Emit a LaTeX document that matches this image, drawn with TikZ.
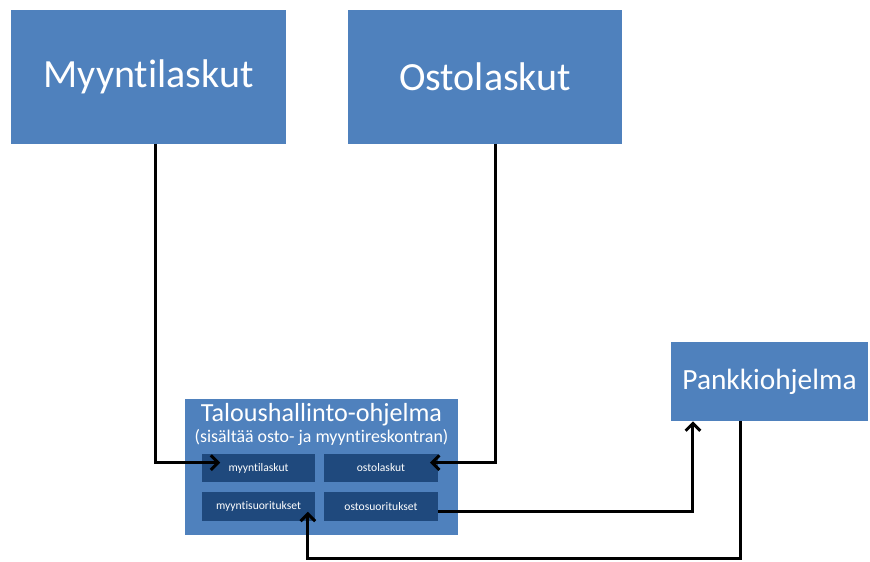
\documentclass[tikz,border=0pt]{standalone}
\usepackage{fontspec}
\setmainfont{Carlito}[Ligatures=NoCommon]
\usetikzlibrary{positioning}
\usetikzlibrary{arrows.meta}

\definecolor{boxblue}{HTML}{4F81BD}
\definecolor{innerblue}{HTML}{1F497D}

\tikzset{
  bigbox/.style={rectangle,fill=boxblue,draw=none,text=white,inner sep=0pt},
  smallbox/.style={rectangle,fill=innerblue,draw=none,text=white,inner sep=0pt,
    minimum width=85pt,minimum height=21.5pt,font=\fontsize{8.7}{10}\selectfont},
  conn/.style={line width=2.25pt,-{Straight Barb[length=5.5pt,width=11pt,line width=2.25pt]}},
}

\begin{document}
\begin{tikzpicture}[x=0.75pt,y=-0.75pt]
\useasboundingbox[fill=white] (0,0) rectangle (870,561);

\node[bigbox,minimum width=206.25pt,minimum height=100.5pt,font=\fontsize{30}{36}\selectfont] (my) at (148.5,76.5) {Myyntilaskut};
\node[bigbox,minimum width=205.5pt,minimum height=100.5pt,font=\fontsize{30}{36}\selectfont] (ost) at (485,76.5) {Ostolaskut};
\node[bigbox,minimum width=147.75pt,minimum height=59.25pt,font=\fontsize{22}{26}\selectfont] (pk) at (769.5,381.5) {Pankkiohjelma};

\node[bigbox,minimum width=204.75pt,minimum height=102pt] (th) at (321.5,467) {};
\node[text=white,align=center,inner sep=0pt,below=3pt of th.north] (thtext)
  {{\fontsize{19.6}{22}\selectfont Taloushallinto-ohjelma}\\[2pt]
   {\fontsize{13.4}{15}\selectfont (sisältää osto- ja myyntireskontran)}};

\node[smallbox] (ml) at (258.5,468) {myyntilaskut};
\node[smallbox] (ol) at (381,468) {ostolaskut};
\node[smallbox] (ms) at (258.5,506.5) {myyntisuoritukset};
\node[smallbox] (os) at (381,506.5) {ostosuoritukset};

\draw[conn,shorten >=-14pt] ([xshift=5pt]my.south) |- ([yshift=4pt]ml.west);
\draw[conn,shorten >=-6pt] ([xshift=7.5pt]ost.south) |- ([yshift=4pt]ol.east);
\draw[conn] ([yshift=-4pt]os.east) -| ([xshift=-57.4pt]pk.south);
\draw[conn,shorten >=-7pt] ([xshift=-22pt]pk.south) -- ++(0,-102.75pt) -| ([xshift=37pt]ms.south);

\end{tikzpicture}
\end{document}
